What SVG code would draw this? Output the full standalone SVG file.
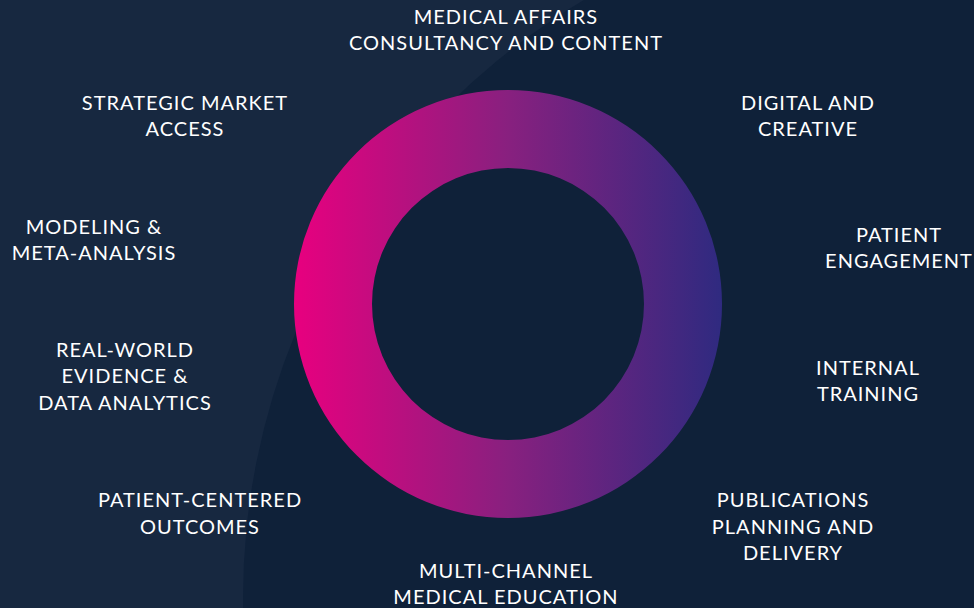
<svg xmlns="http://www.w3.org/2000/svg" width="974" height="608" viewBox="0 0 974 608">
  <defs>
    <linearGradient id="ringGrad" x1="294" y1="0" x2="722" y2="0" gradientUnits="userSpaceOnUse">
      <stop offset="0" stop-color="#e8007f"/>
      <stop offset="0.5" stop-color="#88207f"/>
      <stop offset="1" stop-color="#2f2a80"/>
    </linearGradient>
    <clipPath id="frame"><rect x="0" y="0" width="974" height="608"/></clipPath>
  </defs>
  <style>
    .lbl { font-family: "Lato", "Open Sans", "Liberation Sans", sans-serif; font-size: 20px; letter-spacing: 1px; fill: #ffffff; text-anchor: middle; }
  </style>
  <g id="background" clip-path="url(#frame)">
    <rect x="0" y="0" width="974" height="608" fill="#172840"/>
    <circle cx="938" cy="598" r="695" fill="#0f2139"/>
  </g>
  <g id="ring">
    <path fill="url(#ringGrad)" fill-rule="evenodd" d="M 294 304 A 214 214 0 1 0 722 304 A 214 214 0 1 0 294 304 Z M 372 304 A 136 136 0 1 1 644 304 A 136 136 0 1 1 372 304 Z"/>
  </g>
  <g id="connectors"/>
  <g id="node-medical-affairs">
    <text class="lbl" x="506" y="24">MEDICAL AFFAIRS</text>
    <text class="lbl" x="506" y="50">CONSULTANCY AND CONTENT</text>
  </g>
  <g id="node-strategic-market-access">
    <text class="lbl" x="185" y="110">STRATEGIC MARKET</text>
    <text class="lbl" x="185" y="136">ACCESS</text>
  </g>
  <g id="node-digital-creative">
    <text class="lbl" x="808" y="110">DIGITAL AND</text>
    <text class="lbl" x="808" y="136">CREATIVE</text>
  </g>
  <g id="node-modeling">
    <text class="lbl" x="94" y="234">MODELING &amp;</text>
    <text class="lbl" x="94" y="260">META-ANALYSIS</text>
  </g>
  <g id="node-patient-engagement">
    <text class="lbl" x="899" y="242">PATIENT</text>
    <text class="lbl" x="899" y="268">ENGAGEMENT</text>
  </g>
  <g id="node-real-world-evidence">
    <text class="lbl" x="125" y="357">REAL-WORLD</text>
    <text class="lbl" x="125" y="383">EVIDENCE &amp;</text>
    <text class="lbl" x="125" y="410">DATA ANALYTICS</text>
  </g>
  <g id="node-internal-training">
    <text class="lbl" x="868" y="375">INTERNAL</text>
    <text class="lbl" x="868" y="401">TRAINING</text>
  </g>
  <g id="node-patient-centered-outcomes">
    <text class="lbl" x="200" y="507">PATIENT-CENTERED</text>
    <text class="lbl" x="200" y="534">OUTCOMES</text>
  </g>
  <g id="node-publications">
    <text class="lbl" x="793" y="507">PUBLICATIONS</text>
    <text class="lbl" x="793" y="534">PLANNING AND</text>
    <text class="lbl" x="793" y="560">DELIVERY</text>
  </g>
  <g id="node-multichannel">
    <text class="lbl" x="506" y="578">MULTI-CHANNEL</text>
    <text class="lbl" x="506" y="604">MEDICAL EDUCATION</text>
  </g>
</svg>
